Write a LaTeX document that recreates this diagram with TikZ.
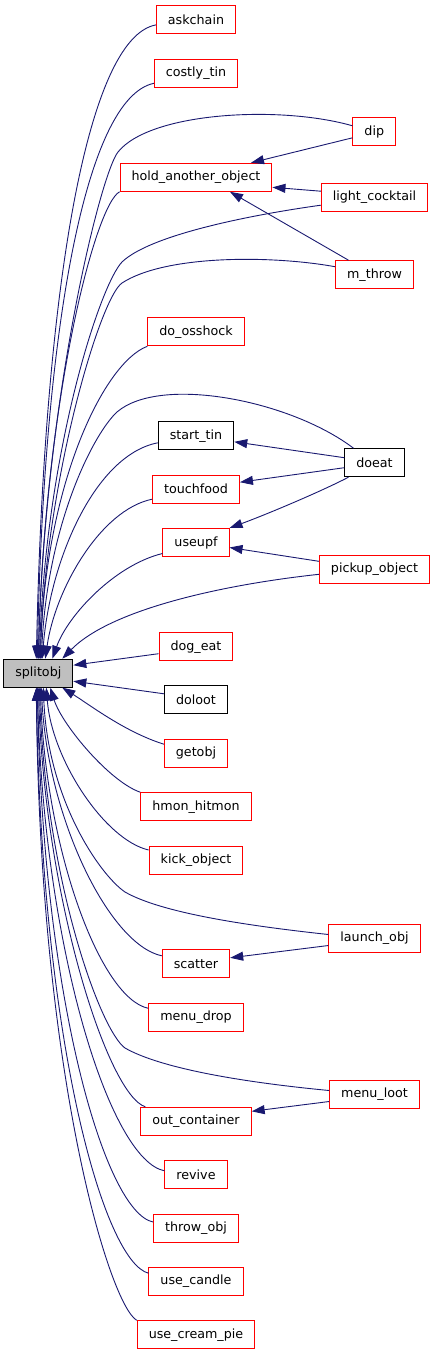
\documentclass[tikz,border=0pt]{standalone}
\usepackage{fontspec}
\setmainfont{DejaVu Sans}
\usetikzlibrary{arrows.meta}
\definecolor{edgeblue}{HTML}{191970}
\definecolor{boxred}{HTML}{FF0000}
\definecolor{boxgray}{HTML}{BFBFBF}
\begin{document}
\begin{tikzpicture}[x=1pt,y=-1pt,
  fn/.style={draw=boxred, rectangle, line width=1pt, inner xsep=11.5pt, inner ysep=0pt, minimum height=28pt, font=\fontsize{12.7}{15}\selectfont},
  fnk/.style={fn, draw=black},
  call/.style={draw=edgeblue, line width=0.9pt, -{Triangle[length=13pt,width=9pt]}}]
\useasboundingbox (0,0) rectangle (435,1355);
% callers, middle and right columns
\node[fn] (ask) at (196,19.9) {askchain};
\node[fn] (costly) at (196,73.3) {costly\_tin};
\node[fn] (dip) at (374.3,131.8) {dip};
\node[fn] (hold) at (196,177.3) {hold\_another\_object};
\node[fn] (light) at (374.5,197.2) {light\_cocktail};
\node[fn] (mthrow) at (374.5,274.7) {m\_throw};
\node[fn] (osshock) at (196,331.8) {do\_osshock};
\node[fnk] (starttin) at (196,435.8) {start\_tin};
\node[fnk] (doeat) at (374.5,462.7) {doeat};
\node[fn] (touch) at (196,489.2) {touchfood};
\node[fn] (useupf) at (196,542.5) {useupf};
\node[fn] (pickup) at (374.5,569.3) {pickup\_object};
\node[fn] (dogeat) at (196,646.7) {dog\_eat};
\node[fnk, fill=boxgray] (split) at (38.3,673.2) {splitobj};
\node[fnk] (doloot) at (196,699.8) {doloot};
\node[fn] (getobj) at (196,753.2) {getobj};
\node[fn] (hmon) at (196,806.7) {hmon\_hitmon};
\node[fn] (kick) at (196,860) {kick\_object};
\node[fn] (launch) at (374.5,938.5) {launch\_obj};
\node[fn] (scatter) at (196,963.8) {scatter};
\node[fn] (mdrop) at (196,1017.3) {menu\_drop};
\node[fn] (mloot) at (374.5,1094.5) {menu\_loot};
\node[fn] (outc) at (196,1121.3) {out\_container};
\node[fn] (revive) at (196,1174.8) {revive};
\node[fn] (throwobj) at (196,1228) {throw\_obj};
\node[fn] (candle) at (196,1281.2) {use\_candle};
\node[fn] (pie) at (196,1334.8) {use\_cream\_pie};
% calls into splitobj from above
\draw[call] ([yshift=-5pt]ask.west) .. controls (85,38) and (44,300) .. ([xshift=-2pt]split.north);
\draw[call] ([yshift=-10pt]costly.west) .. controls (85,98) and (44,330) .. ([xshift=-1pt]split.north);
\draw[call] ([yshift=6pt]dip.west) .. controls (280,105) and (150,112) .. (118,152) .. controls (100,175) and (45,400) .. (split.north);
\draw[call] (hold.south west) .. controls (95,205) and (45,400) .. (split.north);
\draw[call] ([yshift=-8pt]light.west) .. controls (250,215) and (150,235) .. (122,262) .. controls (100,285) and (46,450) .. ([xshift=1pt]split.north);
\draw[call] ([yshift=8pt]mthrow.west) .. controls (270,255) and (165,255) .. (122,283) .. controls (100,298) and (46,480) .. ([xshift=2pt]split.north);
\draw[call] (osshock.south west) .. controls (105,362) and (46,480) .. ([xshift=2pt]split.north);
\draw[call] ([xshift=-21pt]doeat.north) .. controls (290,400) and (160,375) .. (117,412) .. controls (95,432) and (48,520) .. ([xshift=3pt]split.north);
\draw[call] ([yshift=-7pt]starttin.west) .. controls (95,455) and (50,560) .. ([xshift=4pt]split.north);
\draw[call] ([yshift=-10pt]touch.west) .. controls (100,510) and (55,590) .. ([xshift=7pt]split.north);
\draw[call] ([yshift=-11pt]useupf.west) .. controls (115,565) and (68,615) .. ([xshift=14pt]split.north);
\draw[call] ([yshift=-5pt]pickup.west) .. controls (220,585) and (110,610) .. ([xshift=24pt]split.north);
% calls into splitobj from the side and below
\draw[call] ([yshift=-7pt]dogeat.west) -- ([yshift=8pt]split.east);
\draw[call] ([yshift=6pt]doloot.west) -- ([yshift=-8pt]split.east);
\draw[call] ([yshift=9pt]getobj.west) .. controls (125,732) and (90,705) .. ([xshift=24pt]split.south);
\draw[call] (hmon.north west) .. controls (110,782) and (62,725) .. ([xshift=12pt]split.south);
\draw[call] ([yshift=10pt]kick.west) .. controls (105,840) and (52,760) .. ([xshift=8pt]split.south);
\draw[call] ([yshift=4pt]launch.west) .. controls (240,925) and (160,912) .. (125,892) .. controls (100,875) and (48,800) .. ([xshift=5pt]split.south);
\draw[call] ([yshift=8pt]scatter.west) .. controls (110,945) and (48,820) .. ([xshift=3pt]split.south);
\draw[call] ([yshift=9pt]mdrop.west) .. controls (100,998) and (46,850) .. ([xshift=2pt]split.south);
\draw[call] ([yshift=4pt]mloot.west) .. controls (240,1082) and (160,1068) .. (125,1048) .. controls (100,1030) and (46,880) .. ([xshift=1pt]split.south);
\draw[call] ([xshift=5pt]outc.north west) .. controls (108,1095) and (45,900) .. (split.south);
\draw[call] ([yshift=4pt]revive.west) .. controls (110,1160) and (44,950) .. ([xshift=-1pt]split.south);
\draw[call] ([yshift=6pt]throwobj.west) .. controls (105,1212) and (43,1000) .. ([xshift=-1pt]split.south);
\draw[call] ([yshift=8pt]candle.west) .. controls (105,1262) and (42,1050) .. ([xshift=-2pt]split.south);
\draw[call] (pie.north west) .. controls (110,1305) and (40,1080) .. ([xshift=-2pt]split.south);
% the other calls
\draw[call] ([yshift=-6pt]dip.west) -- ([xshift=55pt]hold.north);
\draw[call] ([yshift=6pt]light.west) -- ([yshift=-10pt]hold.east);
\draw[call] ([xshift=-26pt]mthrow.north) -- ([xshift=34pt]hold.south);
\draw[call] ([yshift=5pt]doeat.west) -- ([yshift=-6pt]starttin.east);
\draw[call] ([yshift=-5pt]doeat.west) -- ([yshift=7pt]touch.east);
\draw[call] ([xshift=-26pt]doeat.south) .. controls (320,492) and (265,515) .. (useupf.north east);
\draw[call] ([yshift=8pt]pickup.west) -- ([yshift=-5pt]useupf.east);
\draw[call] ([yshift=-7pt]launch.west) -- ([yshift=6pt]scatter.east);
\draw[call] ([yshift=-7pt]mloot.west) -- ([yshift=10pt]outc.east);
\end{tikzpicture}
\end{document}
